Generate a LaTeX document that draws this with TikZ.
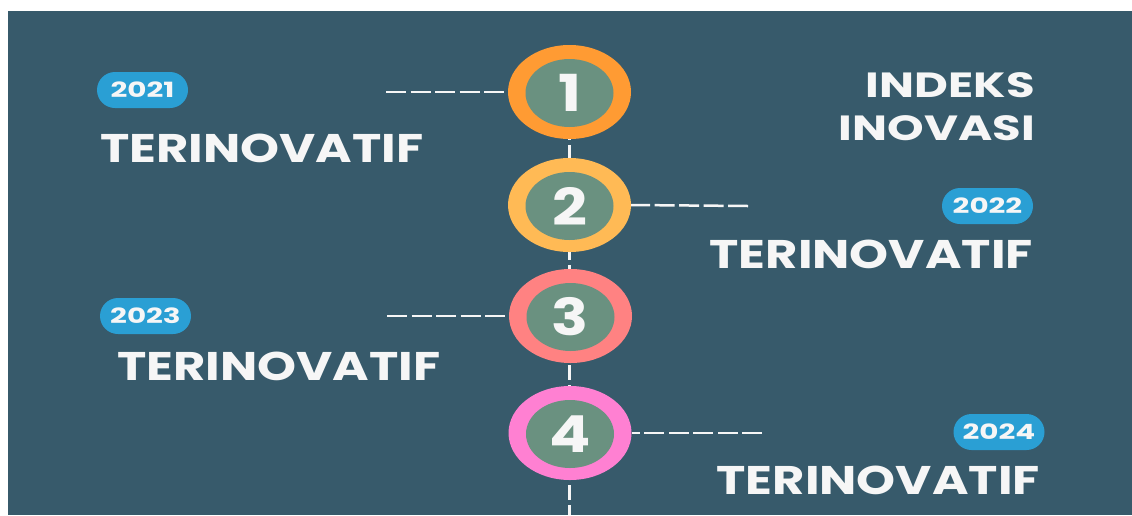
\documentclass[tikz,border=0pt]{standalone}
\usepackage{fontspec}
\setmainfont{Poppins}
\usetikzlibrary{shapes.geometric}
\definecolor{bgc}{RGB}{55,90,107}
\definecolor{pillc}{RGB}{42,159,212}
\definecolor{innerc}{RGB}{106,145,128}
\definecolor{ringa}{RGB}{255,155,51}
\definecolor{ringb}{RGB}{255,186,85}
\definecolor{ringc}{RGB}{255,130,130}
\definecolor{ringd}{RGB}{255,128,210}
\definecolor{txt}{RGB}{246,246,246}
\tikzset{
  ring/.style={ellipse, minimum width=123pt, minimum height=94pt, inner sep=0pt, fill=#1},
  core/.style={ellipse, minimum width=88pt, minimum height=68pt, inner sep=0pt, fill=innerc,
     text=txt, font=\fontsize{51}{51}\selectfont\bfseries\addfontfeature{FakeStretch=1.2}},
  pill/.style={rounded corners=18pt, fill=pillc, minimum width=91pt, minimum height=36pt,
     inner sep=0pt, text=txt, font=\fontsize{21}{21}\selectfont\bfseries\addfontfeature{FakeStretch=1.4}},
  big/.style={text=txt, inner sep=0pt, font=\fontsize{40}{40}\selectfont\bfseries\addfontfeature{FakeStretch=1.24}},
  title/.style={text=txt, inner sep=0pt, font=\fontsize{35}{35}\selectfont\bfseries\addfontfeature{FakeStretch=1.33}},
  conn/.style={draw=txt, line width=2.5pt, dash pattern=on 20pt off 4.5pt},
  vconn/.style={draw=txt, line width=2.5pt, dash pattern=on 15pt off 5pt}
}
\begin{document}
\begin{tikzpicture}[x=1pt,y=-1pt]
\useasboundingbox (0,0) rectangle (1132,515);
\fill[white] (0,0) rectangle (1132,515);
\fill[bgc] (8,11) rectangle (1132,515);
% vertical line
\coordinate (vtop) at (569.5,45);
\coordinate (vbot) at (569.5,515);
\draw[vconn] (vtop) -- (vbot);
% circles
\node[ring=ringa] (c1) at (569.5,92) {};
\node[core] (n1) at (569.5,93) {1};
\node[ring=ringb] (c2) at (569.5,205) {};
\node[core] (n2) at (569.5,206) {2};
\node[ring=ringc] (c3) at (570.5,316) {};
\node[core] (n3) at (570.5,317) {3};
\node[ring=ringd] (c4) at (570,433) {};
\node[core] (n4) at (570,434) {4};
% connectors
\coordinate (h1) at (386,92);
\coordinate (h2) at (748,206);
\coordinate (h3) at (387,316);
\coordinate (h4) at (762,433);
\draw[conn] (h1) -- (c1.west);
\draw[conn] (h2) -- (c2.east);
\draw[conn] (h3) -- (c3.west);
\draw[conn] (h4) -- (c4.east);
% pills
\node[pill] (p1) at (142.5,90) {2021};
\node[pill] (p2) at (987.5,206) {2022};
\node[pill] (p3) at (145.5,316) {2023};
\node[pill] (p4) at (999,432) {2024};
% labels
\node[big, anchor=base west] (t1) at (100,162) {TERINOVATIF};
\node[big, anchor=base east] (t2) at (1033,268) {TERINOVATIF};
\node[big, anchor=base west] (t3) at (117,380) {TERINOVATIF};
\node[big, anchor=base east] (t4) at (1040,494) {TERINOVATIF};
\node[title, anchor=base east] (i1) at (1035,97) {INDEKS};
\node[title, anchor=base east] (i2) at (1035,140) {INOVASI};
\end{tikzpicture}
\end{document}
